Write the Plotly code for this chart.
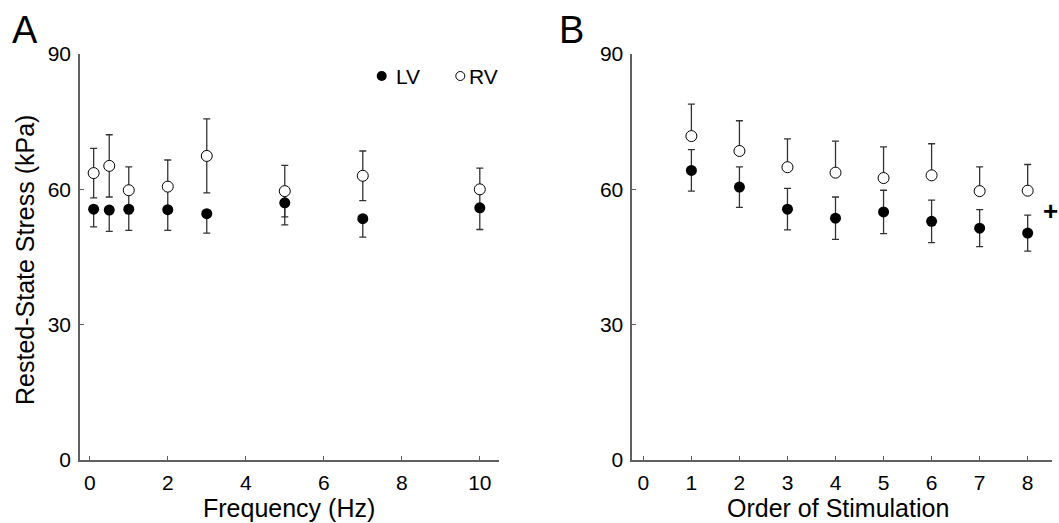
import plotly.graph_objects as go
from plotly.subplots import make_subplots

# Panel A: rested-state stress vs stimulation frequency
freq_hz = [0.1, 0.5, 1, 2, 3, 5, 7, 10]
lv_freq_mean = [55.6, 55.4, 55.6, 55.5, 54.6, 57.0, 53.5, 55.9]
lv_freq_err = [3.9, 4.7, 4.7, 4.6, 4.3, 4.9, 4.1, 4.8]
rv_freq_mean = [63.6, 65.2, 59.8, 60.6, 67.4, 59.6, 63.0, 60.0]
rv_freq_err = [5.5, 6.9, 5.2, 5.9, 8.2, 5.7, 5.5, 4.7]

# Panel B: rested-state stress vs order of stimulation
order = [1, 2, 3, 4, 5, 6, 7, 8]
lv_order_mean = [64.2, 60.5, 55.6, 53.6, 55.0, 52.9, 51.4, 50.3]
lv_order_err = [4.6, 4.5, 4.6, 4.7, 4.8, 4.7, 4.1, 4.0]
rv_order_mean = [71.8, 68.5, 64.9, 63.7, 62.5, 63.1, 59.6, 59.7]
rv_order_err = [7.1, 6.7, 6.3, 7.0, 6.9, 7.0, 5.4, 5.8]

y_ticks = [0, 30, 60, 90]
freq_ticks = [0, 2, 4, 6, 8, 10]
order_ticks = [0, 1, 2, 3, 4, 5, 6, 7, 8]

W, H = 1059, 523
FONT = "Liberation Sans, Arial, sans-serif"
AXIS_GREY = "#606060"
BAR_COL = "#333333"


def px(x):
    return x / W


def py(y):
    return 1 - y / H


fig = make_subplots(rows=1, cols=2)

lv_marker = dict(symbol="circle", size=11, color="black", line=dict(width=0))
rv_marker = dict(symbol="circle", size=11, color="white",
                 line=dict(width=1, color="black"))


def err(up, down):
    return dict(type="data", symmetric=False, array=up, arrayminus=down,
                color=BAR_COL, thickness=1.3, width=3.5)


zeros = [0] * len(freq_hz)

# Panel A traces
fig.add_trace(go.Scatter(x=freq_hz, y=rv_freq_mean, mode="markers", name="RV",
                         marker=rv_marker,
                         error_y=err(rv_freq_err, rv_freq_err)), row=1, col=1)
fig.add_trace(go.Scatter(x=freq_hz, y=lv_freq_mean, mode="markers", name="LV",
                         marker=lv_marker,
                         error_y=err(zeros, lv_freq_err)), row=1, col=1)

# Panel B traces
fig.add_trace(go.Scatter(x=order, y=rv_order_mean, mode="markers", name="RV",
                         marker=rv_marker,
                         error_y=err(rv_order_err, [0] * len(order))), row=1, col=2)
fig.add_trace(go.Scatter(x=order, y=lv_order_mean, mode="markers", name="LV",
                         marker=lv_marker,
                         error_y=err(lv_order_err, lv_order_err)), row=1, col=2)

axis_common = dict(showline=True, linecolor=AXIS_GREY, linewidth=1.6,
                   ticks="inside", ticklen=4, tickwidth=1.3, tickcolor=AXIS_GREY,
                   showgrid=False, zeroline=False, automargin=False,
                   tickfont=dict(family=FONT, size=21, color="black"))

y_dom = [py(460), py(54)]
fig.update_xaxes(axis_common)
fig.update_yaxes(axis_common)
fig.update_xaxes(domain=[px(80), px(499.3)], range=[-0.25, 10.5],
                 tickvals=freq_ticks, ticklabelstandoff=3, row=1, col=1)
fig.update_xaxes(domain=[px(632.3), px(1051.7)], range=[-0.23, 8.5],
                 tickvals=order_ticks, ticklabelstandoff=3, row=1, col=2)
fig.update_yaxes(domain=y_dom, range=[0, 90], tickvals=y_ticks,
                 ticklabelstandoff=3)

annotations = []


def label(text, x, y, size, **kw):
    d = dict(text=text, x=px(x), y=py(y), xref="paper", yref="paper",
             xanchor="center", yanchor="middle", showarrow=False,
             font=dict(family=FONT, size=size, color="black"))
    d.update(kw)
    annotations.append(d)


label("A", 25, 30, 38)
label("B", 571, 30, 38)
label("Frequency (Hz)", 289, 508, 25)
label("Order of Stimulation", 838, 508, 25)
label("Rested-State Stress (kPa)", 25, 260, 25, textangle=-90)
label("<b>+</b>", 1050, 211, 26)

# key
label("LV", 394, 76, 21, xanchor="left")
label("RV", 467, 76, 21, xanchor="left")

shapes = [
    dict(type="circle", xref="paper", yref="paper",
         x0=px(376.7), x1=px(386.7), y0=py(81), y1=py(71),
         fillcolor="black", line=dict(width=0)),
    dict(type="circle", xref="paper", yref="paper",
         x0=px(455.8), x1=px(464.8), y0=py(80.5), y1=py(71.5),
         fillcolor="white", line=dict(width=1, color="black")),
]

fig.update_layout(width=W, height=H,
                  margin=dict(l=0, r=0, t=0, b=0, autoexpand=False),
                  paper_bgcolor="white", plot_bgcolor="white",
                  showlegend=False, annotations=annotations, shapes=shapes,
                  font=dict(family=FONT))

fig.write_html("out.html")
